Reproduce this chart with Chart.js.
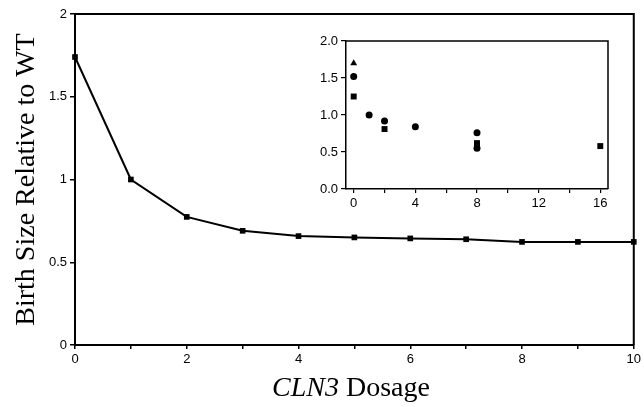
<!DOCTYPE html>
<html>
<head>
    <title>Birth size vs CLN3 dosage</title>
    <style type="text/css">
        body { margin: 0; background: #fff; }
        #wrap { position: relative; width: 644px; height: 407px; }
        #maincanvas { position: absolute; left: 0; top: 0; }
        #insetcanvas { position: absolute; left: 300px; top: 30px; }
    </style>
</head>
<body>
    <div id="wrap">
        <canvas id="maincanvas" width="644" height="407"></canvas>
        <canvas id="insetcanvas" width="320" height="190"></canvas>
    </div>

    <script type="text/javascript" src="https://cdn.jsdelivr.net/npm/chart.js@4/dist/chart.umd.min.js"></script>
    <script>
        // main curve
        var dosage = [0, 1, 2, 3, 4, 5, 6, 7, 8, 9, 10];
        var birthSize = [1.74, 1.0, 0.774, 0.69, 0.658, 0.65, 0.644, 0.639, 0.623, 0.623, 0.623];
        var mainXTicks = [0, 1, 2, 3, 4, 5, 6, 7, 8, 9, 10];
        var mainYTicks = [0, 0.5, 1, 1.5, 2];

        // inset measurements
        var circleX = [0, 1, 2, 4, 8, 8];
        var circleY = [1.52, 1.0, 0.92, 0.84, 0.76, 0.55];
        var squareX = [0, 2, 8, 8, 16];
        var squareY = [1.25, 0.81, 0.62, 0.58, 0.58];
        var triangleX = [0];
        var triangleY = [1.70];
        var insetXTicks = [0, 2, 4, 6, 8, 10, 12, 14, 16];
        var insetYTicks = [0, 0.5, 1, 1.5, 2];

        var tickFont = { family: "'Liberation Sans', Arial, sans-serif", size: 13 };
        var serif = "'Liberation Serif', 'Times New Roman', serif";

        function pairs(xs, ys) {
            var out = [];
            for (var i = 0; i < xs.length; i++) out.push({ x: xs[i], y: ys[i] });
            return out;
        }

        // draws the closing box and the x title
        var boxPlugin = {
            id: "box",
            afterDraw: function (chart, args, opts) {
                var ctx = chart.ctx, a = chart.chartArea;
                ctx.save();
                ctx.strokeStyle = "#000";
                ctx.lineWidth = opts.width;
                ctx.beginPath();
                ctx.moveTo(a.left, a.top);
                ctx.lineTo(a.right, a.top);
                ctx.lineTo(a.right, a.bottom);
                ctx.stroke();
                if (opts.xTitle) {
                    ctx.fillStyle = "#000";
                    ctx.textBaseline = "alphabetic";
                    ctx.font = "italic 28px " + serif;
                    var w1 = ctx.measureText("CLN3").width;
                    ctx.font = "28px " + serif;
                    var w2 = ctx.measureText(" Dosage").width;
                    var x0 = opts.xTitleCenter - (w1 + w2) / 2;
                    ctx.font = "italic 28px " + serif;
                    ctx.fillText("CLN3", x0, opts.xTitleY);
                    ctx.font = "28px " + serif;
                    ctx.fillText(" Dosage", x0 + w1, opts.xTitleY);
                }
                ctx.restore();
            }
        };

        new Chart(document.getElementById("maincanvas"), {
            type: "line",
            data: {
                datasets: [{
                    data: pairs(dosage, birthSize),
                    borderColor: "#000",
                    borderWidth: 2,
                    backgroundColor: "#000",
                    pointStyle: "rect",
                    pointRadius: 4,
                    pointBorderWidth: 0,
                    pointBackgroundColor: "#000",
                    tension: 0,
                    clip: false
                }]
            },
            options: {
                responsive: false,
                animation: false,
                layout: { padding: { top: 14, right: 6, left: 0, bottom: 0 } },
                plugins: {
                    legend: { display: false },
                    tooltip: { enabled: false },
                    box: { width: 2, xTitle: true, xTitleCenter: 351, xTitleY: 396 }
                },
                scales: {
                    x: {
                        type: "linear",
                        min: 0, max: 10,
                        afterBuildTicks: function (s) { s.ticks = mainXTicks.map(function (v) { return { value: v }; }); },
                        afterFit: function (s) { s.height = 62; },
                        ticks: {
                            color: "#000", font: tickFont, padding: 3, maxRotation: 0, autoSkip: false,
                            callback: function (v) { return v % 2 === 0 ? String(v) : ""; }
                        },
                        grid: { display: true, drawOnChartArea: false, drawTicks: true, tickLength: 4, color: "#000", lineWidth: 1.5 },
                        border: { display: true, color: "#000", width: 2 }
                    },
                    y: {
                        min: 0, max: 2,
                        afterBuildTicks: function (s) { s.ticks = mainYTicks.map(function (v) { return { value: v }; }); },
                        afterFit: function (s) { s.width = 75; },
                        ticks: { color: "#000", font: tickFont, padding: 3, callback: function (v) { return String(v); } },
                        grid: { display: true, drawOnChartArea: false, drawTicks: true, tickLength: 5, color: "#000", lineWidth: 1.5 },
                        border: { display: true, color: "#000", width: 2 },
                        title: {
                            display: true,
                            text: "Birth Size Relative to WT",
                            color: "#000",
                            font: { family: serif, size: 28, weight: "normal" },
                            padding: { top: 10, bottom: 0 }
                        }
                    }
                }
            },
            plugins: [boxPlugin]
        });

        new Chart(document.getElementById("insetcanvas"), {
            type: "scatter",
            data: {
                datasets: [
                    { data: pairs(triangleX, triangleY), pointStyle: "triangle", pointRadius: 4, backgroundColor: "#000", borderColor: "#000", borderWidth: 0, clip: false },
                    { data: pairs(circleX, circleY), pointStyle: "circle", pointRadius: 3.5, backgroundColor: "#000", borderColor: "#000", borderWidth: 0, clip: false },
                    { data: pairs(squareX, squareY), pointStyle: "rect", pointRadius: 4.2, backgroundColor: "#000", borderColor: "#000", borderWidth: 0, clip: false }
                ]
            },
            options: {
                responsive: false,
                animation: false,
                layout: { padding: { top: 11, right: 12, left: 0, bottom: 0 } },
                plugins: {
                    legend: { display: false },
                    tooltip: { enabled: false },
                    box: { width: 1.5, xTitle: false }
                },
                scales: {
                    x: {
                        type: "linear",
                        min: -0.5, max: 16.5,
                        afterBuildTicks: function (s) { s.ticks = insetXTicks.map(function (v) { return { value: v }; }); },
                        afterFit: function (s) { s.height = 31; },
                        ticks: {
                            color: "#000", font: tickFont, padding: 3, maxRotation: 0, autoSkip: false,
                            callback: function (v) { return v % 4 === 0 ? String(v) : ""; }
                        },
                        grid: { display: true, drawOnChartArea: false, drawTicks: true, tickLength: 4, color: "#000", lineWidth: 1.2 },
                        border: { display: true, color: "#000", width: 1.5 }
                    },
                    y: {
                        min: 0, max: 2,
                        afterBuildTicks: function (s) { s.ticks = insetYTicks.map(function (v) { return { value: v }; }); },
                        afterFit: function (s) { s.width = 46; },
                        ticks: { color: "#000", font: tickFont, padding: 3, callback: function (v) { return v.toFixed(1); } },
                        grid: { display: true, drawOnChartArea: false, drawTicks: true, tickLength: 5, color: "#000", lineWidth: 1.2 },
                        border: { display: true, color: "#000", width: 1.5 }
                    }
                }
            },
            plugins: [boxPlugin]
        });
    </script>
</body>
</html>
